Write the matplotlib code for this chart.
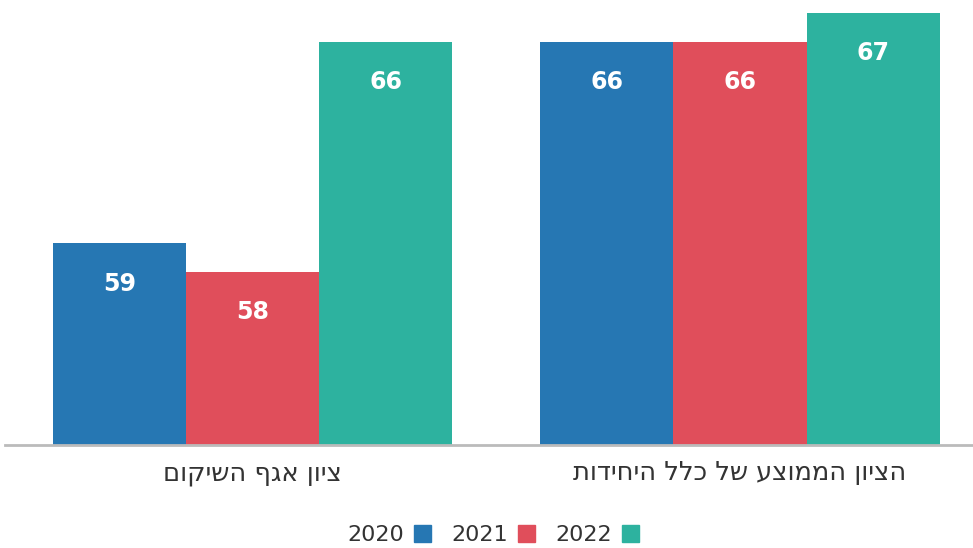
import numpy as np
import matplotlib.pyplot as plt
from matplotlib.patches import Patch

plt.rcParams['font.family'] = ['DejaVu Sans']

# נתונים
categories = ["ציון אגף השיקום", "הציון הממוצע של כלל היחידות"]
years = ["2020", "2021", "2022"]
values_2020 = [59, 66]
values_2021 = [58, 66]
values_2022 = [66, 67]
colors = ["#2677b3", "#e04e5b", "#2db29f"]

series = [values_2020, values_2021, values_2022]

fig = plt.figure(figsize=(9.73, 5.48), dpi=100)
ax = fig.add_axes([0.005, 1 - 445 / 548, 0.995, (445 - 13) / 548])

x = np.arange(len(categories))
w = 0.273
for i, (vals, c) in enumerate(zip(series, colors)):
    pos = x + (i - 1) * w
    bars = ax.bar(pos, vals, width=w, color=c, zorder=2)
    for b, v in zip(bars, vals):
        ax.annotate(str(v), (b.get_x() + b.get_width() / 2, v),
                    xytext=(0, -29), textcoords="offset points",
                    ha="center", va="center", color="white",
                    fontsize=17, fontweight="bold")

ax.set_ylim(52, 67)
ax.set_xlim(-0.508, 1.478)
ax.set_yticks([])
ax.set_xticks(x)
# matplotlib אינו תומך בכיווניות מימין לשמאל, לכן הופכים את המחרוזת
ax.set_xticklabels([c[::-1] for c in categories], fontsize=18.5, color="#333333")
ax.tick_params(axis="x", length=0, pad=11)
for s in ["top", "right", "left"]:
    ax.spines[s].set_visible(False)
ax.spines["bottom"].set_color("#bbbbbb")
ax.spines["bottom"].set_linewidth(2)

handles = [Patch(color=c) for c in colors]
fig.legend(handles, years, loc="center", bbox_to_anchor=(493 / 973, 1 - 535 / 548),
           ncol=3, frameon=False, markerfirst=False, fontsize=16,
           handlelength=0.77, handleheight=0.77, handletextpad=0.45,
           columnspacing=0.9, labelcolor="#333333",
           borderpad=0, borderaxespad=0)

fig.savefig("out.png", dpi=100)
